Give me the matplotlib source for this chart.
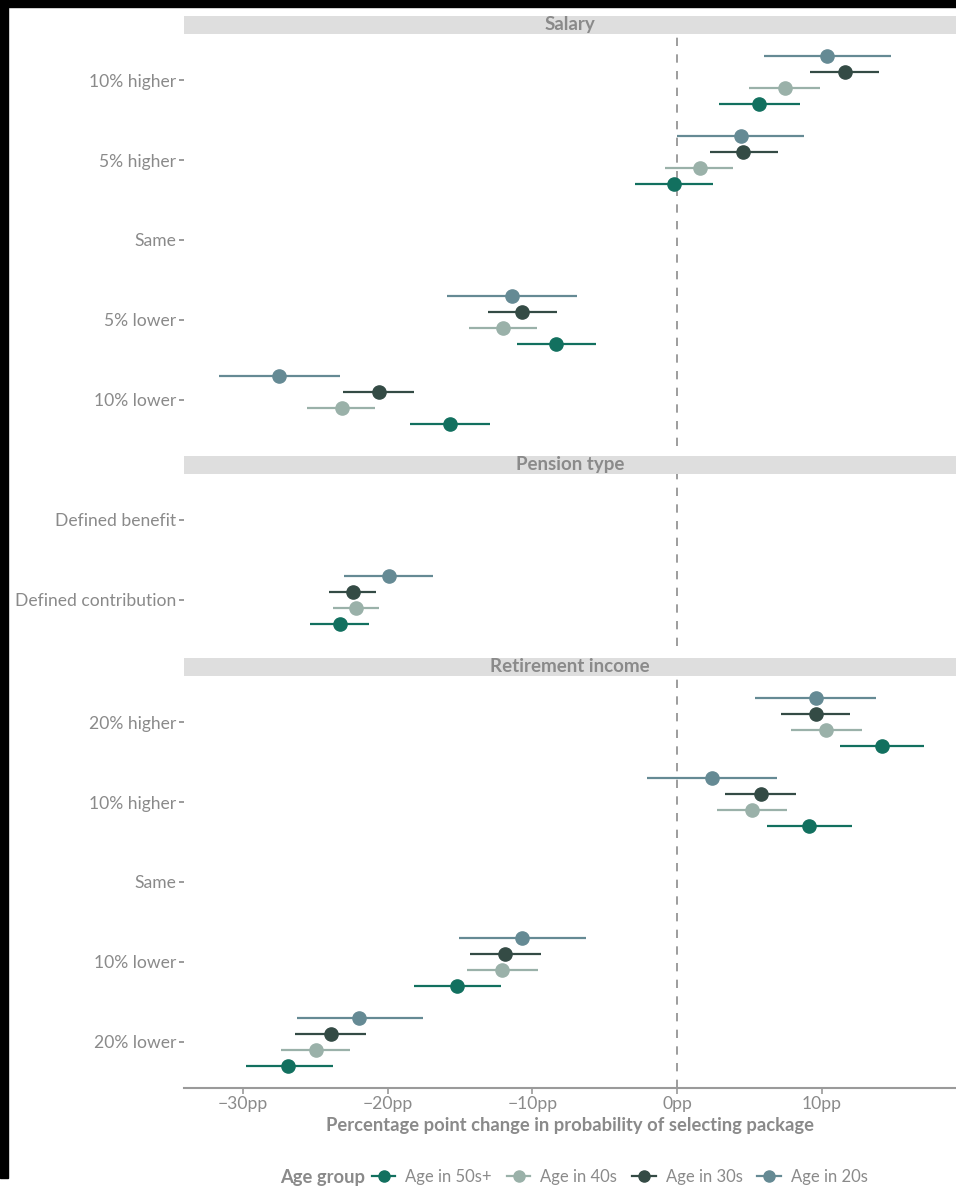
import matplotlib
matplotlib.use("Agg")
import matplotlib.pyplot as plt
from matplotlib.lines import Line2D
from matplotlib.patches import Rectangle

plt.rcParams['font.family'] = ['Lato', 'DejaVu Sans']

# data (pp change, point / lower / upper), order: 50s+, 40s, 30s, 20s
groups = ["Age in 50s+", "Age in 40s", "Age in 30s", "Age in 20s"]
colors = ["#12705f", "#9ab1a9", "#344b45", "#658a94"]

salary_cats = ["10% higher", "5% higher", "Same", "5% lower", "10% lower"]
salary_est = {
    "10% higher": [(5.7, 2.9, 8.5), (7.5, 5.0, 9.9), (11.6, 9.2, 14.0), (10.4, 6.0, 14.8)],
    "5% higher": [(-0.2, -2.9, 2.5), (1.6, -0.8, 3.9), (4.6, 2.3, 7.0), (4.4, 0.0, 8.8)],
    "5% lower": [(-8.4, -11.1, -5.6), (-12.0, -14.4, -9.7), (-10.7, -13.1, -8.3), (-11.4, -15.9, -6.9)],
    "10% lower": [(-15.7, -18.5, -12.9), (-23.2, -25.6, -20.9), (-20.6, -23.1, -18.2), (-27.5, -31.7, -23.3)],
}

pension_cats = ["Defined benefit", "Defined contribution"]
pension_est = {
    "Defined contribution": [(-23.3, -25.4, -21.3), (-22.2, -23.8, -20.6), (-22.4, -24.1, -20.8), (-19.9, -23.0, -16.9)],
}

income_cats = ["20% higher", "10% higher", "Same", "10% lower", "20% lower"]
income_est = {
    "20% higher": [(14.2, 11.3, 17.1), (10.3, 7.9, 12.8), (9.6, 7.2, 12.0), (9.6, 5.4, 13.8)],
    "10% higher": [(9.1, 6.2, 12.1), (5.2, 2.8, 7.6), (5.8, 3.3, 8.2), (2.4, -2.1, 6.9)],
    "10% lower": [(-15.2, -18.2, -12.2), (-12.1, -14.5, -9.6), (-11.9, -14.3, -9.4), (-10.7, -15.1, -6.3)],
    "20% lower": [(-26.9, -29.8, -23.8), (-25.0, -27.4, -22.6), (-23.9, -26.4, -21.5), (-22.0, -26.3, -17.6)],
}

panels = [("Salary", salary_cats, salary_est),
          ("Pension type", pension_cats, pension_est),
          ("Retirement income", income_cats, income_est)]

xticks = [-30, -20, -10, 0, 10]
xticklabels = ["\u221230pp", "\u221220pp", "\u221210pp", "0pp", "10pp"]

TXT = "#8a8a8a"
W, H = 956, 1189
fig = plt.figure(figsize=(W / 100, H / 100), dpi=100)

# black border strips seen in the reference
fig.patches.append(Rectangle((0, 1 - 7 / H), 1, 7 / H, transform=fig.transFigure, color="black", zorder=0))
fig.patches.append(Rectangle((0, 1 - 1178 / H), 8 / W, 1178 / H, transform=fig.transFigure, color="black", zorder=0))

left, right = 184, 956
tops = [34, 474, 676]
unit = 80
expand = 0.575
dodge = [0.3, 0.1, -0.1, -0.3]

for i, (title, cats, est) in enumerate(panels):
    n = len(cats)
    h = (n - 1 + 2 * expand) * unit
    top = tops[i]
    ax = fig.add_axes([left / W, 1 - (top + h) / H, (right - left) / W, h / H])
    # strip
    sax = fig.add_axes([left / W, 1 - top / H, (right - left) / W, 18.5 / H])
    sax.set_facecolor("#dedede")
    sax.set_xticks([]); sax.set_yticks([])
    for s in sax.spines.values():
        s.set_visible(False)
    sax.text(0.5, 0.5, title, ha="center", va="center", fontsize=13.5,
             fontweight="bold", color=TXT, transform=sax.transAxes)

    ax.axvline(0, color="#8c8c8c", lw=1.2, dashes=(5, 5), zorder=1)
    for j, c in enumerate(cats):
        if c not in est:
            continue
        for g, (pt, lo, hi) in enumerate(est[c]):
            y = j + dodge[g]
            ax.plot([lo, hi], [y, y], color=colors[g], lw=1.6, zorder=2, solid_capstyle="butt")
            ax.plot(pt, y, "o", color=colors[g], ms=9.5, zorder=3)

    ax.set_xlim(-34.1, 19.3)
    ax.set_ylim(n - 1 + expand, -expand)
    ax.set_yticks(range(n))
    ax.set_yticklabels(cats)
    ax.tick_params(axis="y", length=3.5, width=1.2, color="#8a8a8a", labelcolor=TXT,
                   labelsize=12.6, pad=2)
    for s in ax.spines.values():
        s.set_visible(False)
    if i == 2:
        ax.spines["bottom"].set_visible(True)
        ax.spines["bottom"].set_color("#9a9a9a")
        ax.spines["bottom"].set_linewidth(1.5)
        ax.set_xticks(xticks)
        ax.set_xticklabels(xticklabels)
        ax.tick_params(axis="x", length=4, width=1.2, color="#9a9a9a", labelcolor=TXT,
                       labelsize=12.6, pad=2)
        ax.set_xlabel("Percentage point change in probability of selecting package",
                      fontsize=13.2, fontweight="bold", color=TXT, labelpad=3)
    else:
        ax.set_xticks([])

# legend
fig.text(280 / W, 1 - 1177 / H, "Age group", ha="left", va="center", fontsize=13.2,
         fontweight="bold", color=TXT)
handles = [Line2D([], [], color=c, lw=1.6, marker="o", ms=8) for c in colors]
leg = fig.legend(handles, groups, loc="center left", bbox_to_anchor=(372 / W, 1 - 1177 / H),
                 ncol=4, frameon=False, fontsize=12, handlelength=1.4, handletextpad=0.6,
                 columnspacing=0.9, borderpad=0, borderaxespad=0)
for t in leg.get_texts():
    t.set_color(TXT)

fig.savefig("out.png", dpi=100, facecolor="white")
